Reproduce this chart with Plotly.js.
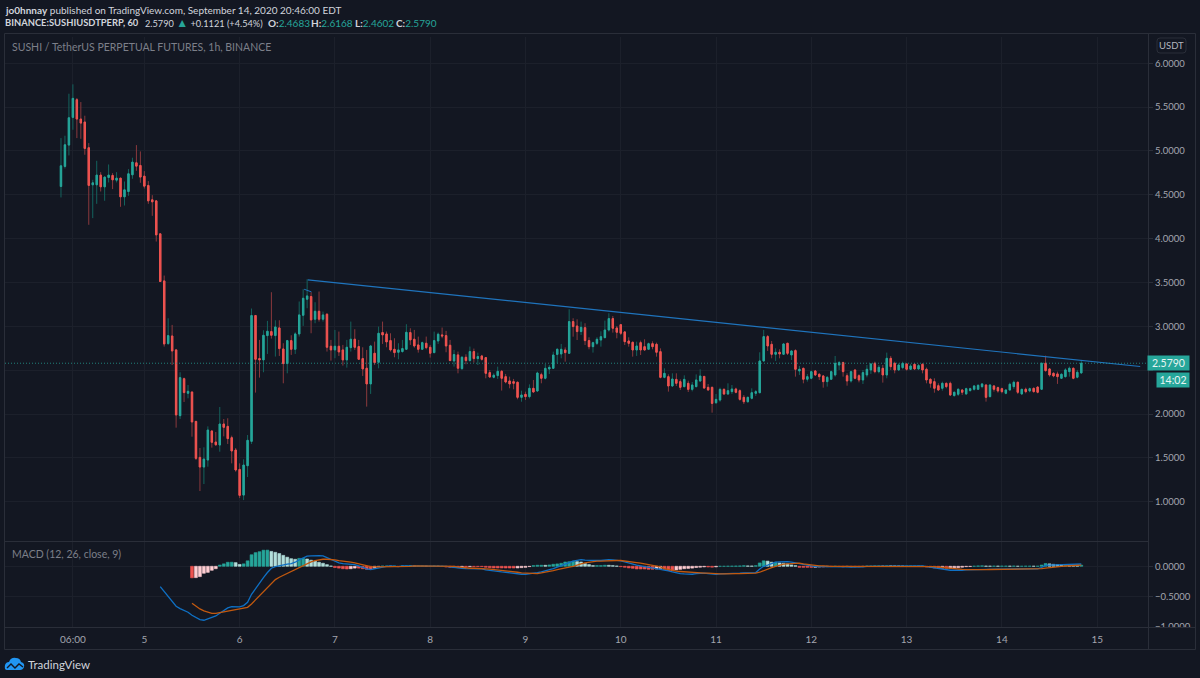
<!DOCTYPE html>
<html><head><meta charset="utf-8">
<script src="https://cdn.plot.ly/plotly-3.0.1.min.js"></script>
<style>html,body{margin:0;padding:0;background:#131722;overflow:hidden}#c{width:1200px;height:678px}</style>
</head><body><div id="c"></div>
<script>
const firstCandle = Date.UTC(2020, 8, 4, 3);
const opens = [
4.595,4.824,5.067,5.383,5.585,5.364,5.330,5.037,4.614,4.614,
4.725,4.591,4.698,4.721,4.667,4.690,4.477,4.538,4.728,4.865,
4.835,4.713,4.607,4.443,4.431,4.055,3.518,2.803,2.89,2.731,
1.981,2.403,2.236,2.251,1.916,1.505,1.395,1.475,1.806,1.68,
1.646,1.886,1.859,1.73,1.589,1.368,1.075,1.41,1.688,3.123,
2.632,2.617,2.894,2.94,2.894,2.982,2.742,2.575,2.837,2.738,
2.913,3.126,3.309,3.34,3.081,3.172,3.081,3.138,2.773,2.731,
2.773,2.731,2.617,2.757,2.853,2.769,2.632,2.522,2.343,2.693,
2.59,2.929,2.913,2.837,2.738,2.704,2.712,2.738,2.929,2.853,
2.788,2.738,2.807,2.761,2.70,2.833,2.902,2.894,2.784,2.605,
2.674,2.518,2.647,2.609,2.712,2.632,2.662,2.643,2.472,2.419,
2.438,2.487,2.426,2.377,2.369,2.362,2.19,2.224,2.198,2.293,
2.262,2.449,2.407,2.513,2.521,2.68,2.685,2.73,2.692,3.054,
3.004,2.94,2.985,2.837,2.768,2.806,2.844,2.871,2.958,3.088,
2.981,3.019,2.936,2.833,2.818,2.73,2.814,2.768,2.738,2.802,
2.795,2.711,2.418,2.426,2.319,2.395,2.369,2.312,2.35,2.281,
2.312,2.376,2.429,2.304,2.304,2.129,2.159,2.281,2.228,2.255,
2.285,2.266,2.19,2.14,2.179,2.236,2.243,2.605,2.883,2.795,
2.681,2.704,2.681,2.807,2.673,2.723,2.491,2.521,2.396,2.407,
2.491,2.453,2.434,2.369,2.396,2.445,2.559,2.586,2.437,2.377,
2.502,2.437,2.388,2.445,2.502,2.578,2.483,2.521,2.445,2.635,
2.578,2.502,2.529,2.571,2.51,2.567,2.514,2.567,2.51,2.396,
2.369,2.323,2.293,2.35,2.35,2.21,2.225,2.274,2.229,2.267,
2.282,2.282,2.312,2.331,2.198,2.32,2.301,2.289,2.236,2.274,
2.312,2.362,2.229,2.282,2.263,2.293,2.308,2.282,2.579,2.514,
2.464,2.457,2.407,2.426,2.483,2.522,2.419,2.4683];
const highs = [
5.147,5.174,5.653,5.76,5.604,5.558,5.402,5.09,4.671,4.888,
4.759,4.71,4.846,4.747,4.759,4.694,4.652,4.793,4.923,5.067,
4.995,4.77,4.656,4.496,4.435,4.055,3.579,3.092,3.016,2.742,
2.476,2.415,2.331,2.255,1.92,1.612,1.62,1.859,1.817,1.795,
2.08,1.943,1.951,1.753,1.612,1.437,1.483,1.76,3.203,3.13,
2.845,2.955,3.062,3.389,3.069,3.069,2.807,2.845,2.898,2.932,
3.283,3.423,3.537,3.389,3.275,3.397,3.168,3.149,2.845,2.959,
2.94,2.788,2.845,3.054,2.967,2.845,2.761,2.731,2.788,2.826,
2.997,3.054,2.94,2.921,2.864,2.807,2.845,3.024,2.978,2.959,
2.883,2.826,2.883,2.788,2.94,2.929,2.986,2.948,2.845,2.731,
2.712,2.662,2.681,2.769,2.746,2.70,2.674,2.647,2.502,2.464,
2.54,2.502,2.457,2.426,2.40,2.369,2.266,2.255,2.338,2.388,
2.483,2.471,2.57,2.559,2.711,2.749,2.799,2.76,3.194,3.092,
3.08,3.054,3.035,2.875,2.825,2.875,2.943,3.065,3.149,3.118,
3.004,3.027,2.947,2.875,2.825,2.825,2.837,2.852,2.814,2.829,
2.814,2.749,2.521,2.452,2.464,2.464,2.395,2.441,2.38,2.365,
2.452,2.51,2.433,2.342,2.312,2.228,2.30,2.293,2.35,2.331,
2.30,2.281,2.216,2.198,2.293,2.274,2.704,2.959,2.90,2.833,
2.749,2.738,2.807,2.807,2.723,2.738,2.548,2.529,2.456,2.495,
2.502,2.464,2.445,2.434,2.495,2.662,2.605,2.597,2.464,2.495,
2.51,2.453,2.502,2.559,2.578,2.597,2.559,2.559,2.70,2.662,
2.597,2.578,2.597,2.578,2.571,2.578,2.571,2.578,2.529,2.407,
2.407,2.35,2.369,2.358,2.369,2.255,2.293,2.282,2.30,2.30,
2.331,2.339,2.35,2.339,2.339,2.331,2.312,2.30,2.282,2.358,
2.381,2.369,2.282,2.301,2.301,2.301,2.312,2.586,2.666,2.522,
2.476,2.483,2.464,2.522,2.541,2.529,2.503,2.6168];
const lows = [
4.47,4.80,4.949,5.242,5.147,5.139,4.957,4.158,4.234,4.397,
4.538,4.432,4.641,4.565,4.641,4.363,4.378,4.489,4.683,4.774,
4.637,4.572,4.397,4.26,3.967,3.507,2.769,2.788,2.559,1.844,
1.943,2.137,2.179,1.741,1.475,1.121,1.201,1.399,1.616,1.635,
1.57,1.745,1.658,1.437,1.342,1.041,1.018,1.281,1.658,2.244,
2.415,2.476,2.685,2.86,2.655,2.662,2.35,2.464,2.674,2.685,
2.883,3.005,3.206,2.921,3.035,3.054,3.054,2.712,2.609,2.636,
2.662,2.552,2.529,2.712,2.731,2.617,2.434,2.084,2.229,2.559,
2.521,2.799,2.761,2.712,2.647,2.624,2.70,2.731,2.788,2.757,
2.70,2.731,2.738,2.643,2.693,2.799,2.864,2.704,2.605,2.541,
2.464,2.502,2.567,2.598,2.586,2.559,2.609,2.407,2.415,2.407,
2.40,2.267,2.35,2.293,2.282,2.168,2.14,2.16,2.178,2.243,
2.255,2.35,2.395,2.456,2.513,2.578,2.635,2.597,2.685,2.882,
2.844,2.901,2.787,2.738,2.70,2.787,2.768,2.863,2.94,2.928,
2.863,2.901,2.787,2.768,2.654,2.662,2.673,2.723,2.73,2.738,
2.654,2.407,2.407,2.255,2.312,2.319,2.274,2.304,2.251,2.258,
2.304,2.369,2.289,2.266,2.015,2.114,2.14,2.216,2.216,2.228,
2.236,2.152,2.114,2.129,2.167,2.205,2.236,2.597,2.719,2.635,
2.605,2.635,2.673,2.673,2.616,2.426,2.445,2.35,2.369,2.396,
2.434,2.388,2.30,2.312,2.388,2.426,2.502,2.426,2.323,2.358,
2.396,2.361,2.342,2.418,2.457,2.464,2.464,2.358,2.407,2.502,
2.464,2.495,2.51,2.495,2.502,2.502,2.502,2.464,2.35,2.30,
2.243,2.262,2.266,2.293,2.205,2.198,2.206,2.217,2.217,2.255,
2.267,2.274,2.293,2.141,2.19,2.255,2.244,2.236,2.225,2.267,
2.286,2.229,2.217,2.236,2.248,2.244,2.236,2.274,2.483,2.426,
2.419,2.343,2.40,2.415,2.426,2.396,2.407,2.4602];
const closes = [
4.831,5.071,5.379,5.600,5.364,5.318,5.029,4.607,4.637,4.725,
4.591,4.702,4.725,4.671,4.690,4.477,4.557,4.74,4.873,4.827,
4.702,4.599,4.431,4.42,4.043,3.511,2.799,2.894,2.719,1.989,
2.415,2.244,2.259,1.909,1.494,1.395,1.486,1.817,1.677,1.65,
1.886,1.848,1.719,1.578,1.361,1.072,1.418,1.70,3.123,2.624,
2.617,2.898,2.944,2.898,2.993,2.746,2.575,2.837,2.738,2.913,
3.13,3.32,3.347,3.073,3.172,3.081,3.13,2.761,2.731,2.773,
2.708,2.617,2.761,2.853,2.761,2.624,2.514,2.343,2.776,2.586,
2.921,2.902,2.822,2.731,2.70,2.731,2.746,2.932,2.845,2.776,
2.738,2.814,2.757,2.693,2.837,2.91,2.89,2.776,2.609,2.678,
2.522,2.647,2.609,2.712,2.632,2.655,2.624,2.464,2.422,2.442,
2.487,2.407,2.365,2.343,2.35,2.19,2.217,2.198,2.293,2.251,
2.468,2.407,2.521,2.532,2.673,2.738,2.738,2.70,3.054,2.997,
2.94,2.989,2.837,2.768,2.814,2.852,2.882,2.958,3.088,2.978,
2.932,2.921,2.825,2.806,2.73,2.776,2.73,2.73,2.802,2.768,
2.704,2.418,2.464,2.319,2.399,2.35,2.304,2.395,2.281,2.331,
2.388,2.433,2.296,2.274,2.121,2.167,2.281,2.228,2.266,2.285,
2.247,2.167,2.14,2.19,2.243,2.255,2.605,2.883,2.776,2.681,
2.704,2.685,2.799,2.692,2.719,2.51,2.51,2.396,2.426,2.483,
2.445,2.426,2.369,2.418,2.483,2.578,2.586,2.483,2.377,2.483,
2.407,2.388,2.472,2.51,2.571,2.483,2.533,2.445,2.635,2.54,
2.502,2.559,2.578,2.51,2.548,2.514,2.552,2.502,2.388,2.35,
2.293,2.274,2.35,2.312,2.217,2.248,2.282,2.248,2.289,2.289,
2.32,2.327,2.343,2.19,2.331,2.282,2.263,2.255,2.274,2.339,
2.362,2.248,2.282,2.255,2.289,2.255,2.248,2.579,2.495,2.445,
2.434,2.426,2.453,2.503,2.522,2.407,2.476,2.579];
const macdOffset = 25;
const macdLine = [
-.334,-.417,-.499,-.576,-.658,-.697,-.73,-.757,-.807,-.845,-.878,-.889,-.867,-.84,-.818,
-.774,-.724,-.686,-.664,-.664,-.669,-.647,-.592,-.461,-.362,-.274,-.186,-.103,-.032,-.005,
.012,.023,.034,.045,.067,.105,.138,.166,.171,.177,.177,.171,.144,.105,.078,.056,.045,.039,.039,.028,
.006,-.021,-.043,-.054,-.038,-.021,-.005,0,.005,0,-.005,
.007,.007,.012,.012,.012,.012,.007,.007,.012,.012,.012,0,-.01,-.021,-.032,-.032,-.037,-.037,-.037,-.037,
-.043,-.059,-.07,-.081,-.086,-.092,-.098,-.109,-.114,-.125,-.131,-.131,-.125,-.114,-.103,-.092,-.076,-.059,-.037,-.015,
.012,.045,.06,.084,.1,.111,.1,.095,.089,.095,.095,.106,.111,.106,.1,.089,.073,.051,.034,.018,
.007,-.004,-.015,-.026,-.032,-.043,-.065,-.076,-.092,-.109,-.12,-.125,-.131,-.131,-.12,-.114,-.114,-.12,-.131,-.131,
-.125,-.125,-.12,-.12,-.114,-.114,-.109,-.109,-.109,-.103,-.043,0,.018,.046,.067,.073,.078,.078,.067,.056,
.034,.023,.012,0,-.005,-.005,-.005,-.005,-.005,0,-.005,-.01,-.01,-.015,-.015,-.015,-.01,0,0,.007,
.007,.007,.012,.012,.012,.012,.012,.012,.012,.012,.007,.007,-.005,-.015,-.032,-.043,-.05,-.06,-.065,-.065,
-.068,-.065,-.06,-.06,-.054,-.05,-.048,-.05,-.05,-.048,-.048,-.046,-.046,-.046,-.043,-.046,-.046,-.043,-.043,-.043,
-.043,-.02,.015,.02,.022,.022,.025,.03,.03,.03,.032,.038];
const signalOffset = 33;
const signalLine = [
-.609,-.658,-.702,-.735,-.757,-.774,-.774,-.763,-.752,-.741,-.73,-.719,-.708,-.691,-.675,-.62,-.554,-.483,-.417,-.345,
-.279,-.219,-.18,-.147,-.114,-.092,-.06,-.021,.012,.045,.072,.094,.111,.116,.116,.116,.105,.094,.089,.078,
.067,.056,.039,.023,.006,-.005,-.01,-.01,-.01,-.005,0,0,0,
0,0,0,.007,.007,.007,.007,.007,.007,.012,.012,.012,.007,0,-.01,-.021,-.026,-.032,-.032,-.032,
-.037,-.043,-.048,-.054,-.059,-.065,-.07,-.081,-.086,-.098,-.109,-.114,-.12,-.125,-.12,-.109,-.092,-.081,-.07,-.054,
-.037,-.026,-.015,0,.023,.04,.056,.067,.078,.084,.084,.089,.095,.095,.095,.095,.089,.078,.067,.062,
.051,.04,.034,.023,.012,-.01,-.037,-.054,-.07,-.081,-.086,-.092,-.098,-.103,-.109,-.109,-.114,-.114,-.12,-.125,
-.125,-.125,-.12,-.12,-.12,-.12,-.12,-.114,-.114,-.114,-.098,-.07,-.043,-.021,0,.018,.034,.04,.046,.046,
.051,.04,.029,.018,.012,.007,.007,0,0,0,0,0,-.005,-.005,-.005,-.005,-.005,-.005,-.005,0,
0,.002,.003,.004,.005,.006,.007,.007,.007,.007,.007,.007,.005,0,-.005,-.012,-.02,-.028,-.035,-.04,
-.046,-.05,-.054,-.056,-.056,-.056,-.056,-.054,-.053,-.052,-.051,-.05,-.05,-.049,-.048,-.047,-.047,-.046,-.046,-.045,
-.045,-.04,-.03,-.02,-.01,-.005,0,.005,.01,.013,.016,.02];
const histOffset = 33;
const histValues = [
-.19,-.187,-.17,-.115,-.10,-.066,-.04,.02,.04,.066,.067,.06,.03,.04,.09,.19,.225,.24,.265,.266,
.245,.23,.21,.18,.15,.125,.115,.13,.131,.12,.10,.085,.066,.05,.027,.005,-.02,-.03,-.04,-.045,
-.04,-.03,-.03,-.04,-.05,-.051,-.03,-.01,.005,.005,0,.005,-.005,
.007,.007,.012,.005,.005,.005,0,0,.005,0,0,-.012,-.017,-.021,-.022,-.011,-.011,-.005,-.005,-.005,
-.006,-.016,-.022,-.027,-.027,-.027,-.028,-.028,-.028,-.027,-.022,-.017,-.005,.011,.017,.017,.016,.022,.033,.039,
.049,.071,.075,.084,.077,.071,.044,.028,.011,.011,.011,.017,.016,.011,.005,-.006,-.016,-.027,-.033,-.044,
-.044,-.044,-.049,-.049,-.044,-.033,-.05,-.07,-.075,-.06,-.05,-.04,-.035,-.03,-.02,-.015,-.01,-.012,-.015,-.01,
0,0,.002,.003,.005,.006,.01,.006,.005,.01,.055,.09,.085,.067,.067,.055,.05,.04,.022,.01,
-.017,-.017,-.017,-.018,-.017,-.012,-.012,-.005,-.005,0,-.005,-.01,-.005,-.01,-.01,-.01,-.005,.005,.005,.007,
.007,.005,.009,.008,.007,.006,.005,.005,.005,.005,0,0,-.01,-.015,-.027,-.031,-.03,-.032,-.03,-.025,
-.022,-.015,-.006,-.004,.002,.006,.008,.004,.003,.004,.003,.004,.004,.003,.005,.001,.001,.003,.003,.002,
.002,.02,.045,.04,.032,.027,.025,.025,.02,.017,.016,.018];
const priceTicks = [1,1.5,2,2.5,3,3.5,4,4.5,5,5.5,6];
const priceTickText = ['1.0000','1.5000','2.0000','','3.0000','3.5000','4.0000','4.5000','5.0000','5.5000','6.0000'];
const macdTicks = [0,-0.5,-1];
const timeTickVals = ['2020-09-04 06:00','2020-09-05','2020-09-06','2020-09-07','2020-09-08','2020-09-09','2020-09-10','2020-09-11','2020-09-12','2020-09-13','2020-09-14','2020-09-15'];
const timeTickText = ['06:00','5','6','7','8','9','10','11','12','13','14','15'];
const trendX = ['2020-09-06 17:10','2020-09-15 10:50'];
const trendY = [3.53,2.542];
const shortX = ['2020-09-06 16:15','2020-09-06 18:05'];
const shortY = [3.423,3.393];
const lastClose = 2.579;

const W=1200,H=678,L=5,R=1148,T=37,B=627,SPLIT=542;
const px=x=>(x-L)/(R-L), py=y=>(B-y)/(B-T);
const P=(x,y)=>px(x)+','+py(y);
const times = closes.map((_,i)=>new Date(firstCandle+i*3600e3).toISOString().slice(0,16).replace('T',' '));
const UP='#26a69a',DN='#ef5350',UPW='#14635d',DNW='#8a393d',BG='#131722',FR='#2a2e39',GR='#1c202b',TX='#a3a6af';
const FONT='Lato, "Noto Sans", sans-serif';
const bodyHigh=closes.map((c,i)=>Math.max(c,opens[i])), bodyLow=closes.map((c,i)=>Math.min(c,opens[i]));
const histColors=histValues.map((v,i)=>{const p=i?histValues[i-1]:v;return v>=0?(v>=p?'#26a69a':'#b2dfdb'):(v<=p?'#ef5350':'#ffcdd2');});

const traces=[
 {type:'candlestick',x:times,open:opens,high:highs,low:lows,close:closes,xaxis:'x',yaxis:'y',whiskerwidth:0,
  increasing:{line:{color:UPW,width:1},fillcolor:UPW},decreasing:{line:{color:DNW,width:1},fillcolor:DNW},hoverinfo:'skip'},
 {type:'candlestick',x:times,open:opens,high:bodyHigh,low:bodyLow,close:closes,xaxis:'x',yaxis:'y',whiskerwidth:0,
  increasing:{line:{color:UP,width:1},fillcolor:UP},decreasing:{line:{color:DN,width:1},fillcolor:DN},hoverinfo:'skip'},
 {type:'scatter',mode:'lines',x:trendX,y:trendY,xaxis:'x',yaxis:'y',line:{color:'#1f74bd',width:1.2},hoverinfo:'skip'},
 {type:'scatter',mode:'lines',x:shortX,y:shortY,xaxis:'x',yaxis:'y',line:{color:'#1f74bd',width:1},hoverinfo:'skip'},
 {type:'bar',x:times.slice(histOffset),y:histValues,xaxis:'x',yaxis:'y2',width:0.72*3600e3,marker:{color:histColors,line:{color:histColors,width:0.6}},hoverinfo:'skip'},
 {type:'scatter',mode:'lines',x:times.slice(macdOffset),y:macdLine,xaxis:'x',yaxis:'y2',line:{color:'#0f70c4',width:1.3},hoverinfo:'skip'},
 {type:'scatter',mode:'lines',x:times.slice(signalOffset),y:signalLine,xaxis:'x',yaxis:'y2',line:{color:'#c2590f',width:1.3},hoverinfo:'skip'}
];
const note=(x,y,text,size,color,extra)=>Object.assign({xref:'paper',yref:'paper',x:px(x),y:py(y),text,showarrow:false,xanchor:'left',yanchor:'middle',font:{family:FONT,size,color}},extra||{});
const g='#26a69a';
const annotations=[
 note(3,10,'<b>jo0hnnay</b> published on TradingView.com, September 14, 2020 20:46:00 EDT',10,'#d1d4dc'),
 note(3,23,'<b>BINANCE:SUSHIUSDTPERP, 60</b>',9.4,'#d1d4dc'),
 note(143,23,`2.5790 <span style="color:${g};font-size:12px">▲</span> +0.1121 (+4.54%)`,9.2,'#d1d4dc'),
 note(266,23,`<b>O:</b><span style="color:${g}">2.4683</span>`,10,'#d1d4dc'),
 note(309,23,`<b>H:</b><span style="color:${g}">2.6168</span>`,10,'#d1d4dc'),
 note(353,23,`<b>L:</b><span style="color:${g}">2.4602</span>`,10,'#d1d4dc'),
 note(394,23,`<b>C:</b><span style="color:${g}">2.5790</span>`,10,'#d1d4dc'),
 note(10,46.5,'SUSHI / TetherUS PERPETUAL FUTURES, 1h, BINANCE',10.5,'#7c7f89'),
 note(10,554,'MACD (12, 26, close, 9)',10.5,'#7c7f89'),
 note(1171.5,45.5,'USDT',9.5,'#b2b5be',{xanchor:'center'}),
 note(26,664,'TradingView',11.5,'#d1d4dc'),
 {xref:'paper',yref:'y',x:px(1168.5),y:lastClose,text:'2.5790',showarrow:false,xanchor:'center',yanchor:'middle',width:41,height:14,borderpad:0,bgcolor:UP,font:{family:FONT,size:10.5,color:'#e8f5f3'}},
 note(1173,379.5,'14:02',10.5,'#e8f5f3',{xanchor:'center',width:32,height:14,borderpad:0,bgcolor:UP})
];
const lineShape=(x0,y0,x1,y1,color)=>({type:'line',xref:'paper',yref:'paper',x0:px(x0),y0:py(y0),x1:px(x1),y1:py(y1),line:{color:color||FR,width:1},layer:'above'});
const shapes=[
 {type:'rect',xref:'paper',yref:'paper',x0:px(1149),x1:px(1195),y0:py(634),y1:py(627.5),fillcolor:BG,line:{width:0},layer:'above'},
 lineShape(4.5,33.5,1195.5,33.5),lineShape(4.5,33.5,4.5,649.5),lineShape(1195.5,33.5,1195.5,649.5),lineShape(4.5,649.5,1195.5,649.5),
 lineShape(1148.5,33.5,1148.5,649.5),lineShape(4.5,627.5,1195.5,627.5),lineShape(4.5,541.5,1148.5,541.5),
 {type:'line',xref:'paper',yref:'y',x0:0,x1:1,y0:lastClose,y1:lastClose,line:{color:'rgba(38,166,154,0.75)',width:1,dash:'1px,2px'},layer:'above'},
 {type:'path',xref:'paper',yref:'paper',path:`M${P(1160,38)} L${P(1183,38)} Q${P(1186,38)} ${P(1186,41)} L${P(1186,50)} Q${P(1186,53)} ${P(1183,53)} L${P(1160,53)} Q${P(1157,53)} ${P(1157,50)} L${P(1157,41)} Q${P(1157,38)} ${P(1160,38)} Z`,line:{color:FR,width:1},layer:'above'},
 {type:'path',xref:'paper',yref:'paper',path:`M${P(7,670)} Q${P(4,670)} ${P(5,665)} Q${P(6,662)} ${P(9,662)} Q${P(11,657)} ${P(16,658)} Q${P(20,658)} ${P(21,662)} Q${P(25,663)} ${P(24,667)} Q${P(23,670)} ${P(20,670)} Z`,fillcolor:'#2196f3',line:{width:0},layer:'above'},
 {type:'path',xref:'paper',yref:'paper',path:`M${P(7,668)} L${P(11,664)} L${P(15,668)} L${P(19,664)} L${P(23,667)}`,line:{color:BG,width:1.4},layer:'above'}
];
const layout={
 width:W,height:H,paper_bgcolor:BG,plot_bgcolor:BG,showlegend:false,hovermode:false,boxgap:0.5,bargap:0,
 margin:{l:L,r:W-R,t:T,b:H-B,pad:0},dragmode:false,
 xaxis:{type:'date',anchor:'y2',range:['2020-09-03 12:54','2020-09-15 12:48'],tickmode:'array',tickvals:timeTickVals,ticktext:timeTickText,
   showgrid:true,gridcolor:GR,gridwidth:1,zeroline:false,showline:false,ticks:'',tickangle:0,rangeslider:{visible:false},
   tickfont:{family:FONT,size:10,color:TX},ticklabelstandoff:5},
 yaxis:{domain:[(B-SPLIT)/(B-T),1],range:[0.54,6.30],side:'right',tickmode:'array',tickvals:priceTicks,ticktext:priceTickText,showgrid:true,gridcolor:GR,gridwidth:1,zeroline:false,showline:false,
   ticks:'outside',ticklen:4,tickcolor:FR,tickfont:{family:FONT,size:9.5,color:TX}},
 yaxis2:{domain:[0,(B-SPLIT)/(B-T)],range:[-1,0.4],side:'right',tickmode:'array',tickvals:macdTicks,tickformat:'.4f',showgrid:true,gridcolor:GR,gridwidth:1,zeroline:false,showline:false,
   ticks:'outside',ticklen:4,tickcolor:FR,tickfont:{family:FONT,size:9.5,color:TX}},
 annotations,shapes
};
Plotly.newPlot('c',traces,layout,{displayModeBar:false,staticPlot:true,responsive:false});
</script></body></html>
